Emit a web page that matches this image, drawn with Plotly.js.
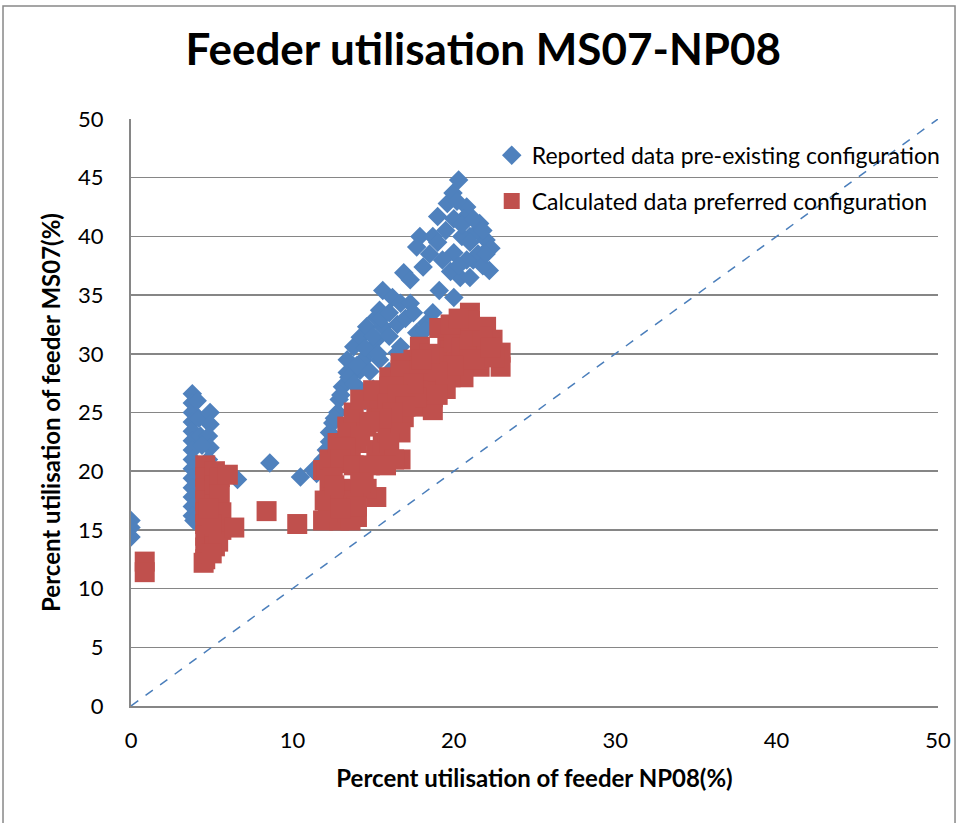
<!DOCTYPE html>
<html><head><meta charset="utf-8">
<script src="https://cdn.plot.ly/plotly-3.0.1.min.js"></script>
<style>body{margin:0;padding:0;background:#fff}#chart{width:957px;height:823px}</style>
</head><body><div id="chart"></div>
<script>
// Reported data pre-existing configuration (blue diamonds)
const reportedX = [0,0,0,
 3.8,3.8,3.8,3.8,3.8,3.8,3.8,3.8,3.8,3.8,3.8,3.8,3.8,3.8,3.9,4.1,4.2,4.3,4.9,4.9,4.8,4.9,4.8,4.4,5.0,6.6,
 8.6,10.5,11.3,11.5,12.1,12.3,12.5,12.8,12.9,13.1,14.0,13.4,14.2,13.4,14.4,15.4,16.5,13.8,14.8,14.2,15.2,14.6,15.6,15.2,15.4,
 15.6,16.2,16.7,17.3,16.9,17.3,17.9,17.7,18.7,18.1,19.0,19.6,19.95,20.3,20.8,21.6,22.0,22.2,20.0,20.4,21.2,19.1,20.0,18.7,18.3,17.7,16.7,
 15.6,16.7,14.5,15.0,16.0,21.5,21.8,22.3,21.0,20.6,
 13.0,13.5,14.0,14.5,15.0,15.5,16.0,13.8,14.8,15.3,16.0,16.5,17.0,12.6,12.3,11.9,18.5,19.0,19.5,20.0,20.5,21.0,21.5,21.8,20.8,20.2,20.5,21.2,21.8,22.0,19.3,19.8,20.3,21.0,17.5,18.2];
const reportedY = [15.8,15.2,14.4,
 26.6,25.8,25.0,24.2,23.4,22.6,21.8,21.0,20.2,19.4,18.6,17.8,17.0,16.2,15.8,26.0,24.5,23.0,25.0,24.0,23.0,22.0,21.0,22.2,19.8,19.3,
 20.7,19.5,20.1,19.8,21.8,23.3,24.1,25.0,26.1,27.2,27.2,28.4,28.6,29.5,29.5,29.5,30.1,30.6,30.3,31.4,31.2,32.3,32.3,33.1,33.7,
 35.4,34.8,34.3,34.3,36.9,36.3,40.0,39.1,40.0,37.4,41.7,42.8,43.7,44.8,42.5,41.1,39.7,37.1,38.6,36.5,38.0,35.4,34.8,33.5,32.6,31.8,30.6,
 22.7,25.5,26.0,27.0,28.5,40.5,38.5,39.0,40.0,41.5,
 26.5,28.0,29.0,30.5,31.5,33.0,33.5,27.5,28.5,30.0,31.5,32.5,33.0,24.5,22.5,21.0,38.5,39.5,40.5,41.5,40.0,39.5,38.5,37.5,38.0,43.0,41.0,41.5,40.5,38.5,38.0,37.0,37.5,36.5,33.5,32.0];

// Calculated data preferred configuration (red squares)
const calculatedX = [0.85,0.85,
 4.6,4.6,4.6,4.6,4.6,4.6,4.6,4.6,4.6,4.5,5.2,5.2,5.2,5.2,5.2,5.2,5.5,5.5,5.6,5.6,5.4,6.0,6.4,5.0,4.8,5.0,
 8.4,10.3,
 11.9,12.9,14.0,12.5,12.3,13.4,15.2,14.4,11.9,12.1,12.8,12.3,13.6,14.4,16.7,15.2,12.8,14.0,13.6,15.6,13.4,14.6,15.9,13.8,15.2,14.2,15.4,
 15.0,16.0,16.7,17.5,17.9,19.6,19.1,21.0,20.6,22.0,22.4,22.9,22.9,21.6,20.6,19.8,18.9,16.7,17.9,19.8,18.7,16.0,17.1,18.7,17.7,18.7,
 15.9,16.9,15.9,16.7,16.0,18.3,17.7,
 20.0,20.5,21.0,21.5,22.0,21.5,22.5,21.0,20.0,19.0,18.5,18.0,19.5,19.0,17.5,16.5,17.0,16.2,15.5,14.8,14.2,13.3,13.0,12.5,13.8,14.8,14.6,13.2,12.2,13.6,12.0,21.8,22.3,21.0,19.8,20.3,16.3,15.8,
 13.0,13.8,14.2,12.6,14.0,13.0];
const calculatedY = [12.3,11.4,
 20.5,19.5,18.5,17.5,16.5,15.5,14.5,13.5,12.5,12.2,20.0,18.8,17.2,16.0,14.5,13.6,19.5,18.0,16.5,15.0,14.0,19.7,15.2,15.5,16.8,13.0,
 16.6,15.5,
 15.8,15.8,16.1,17.0,18.4,18.4,17.8,19.5,20.1,20.1,20.7,21.0,21.0,19.8,21.0,21.8,22.4,22.4,22.1,22.4,23.8,23.8,23.3,25.0,25.0,26.1,26.1,
 26.9,28.0,29.2,29.5,30.6,31.2,32.2,33.5,32.3,32.3,31.2,30.1,28.9,28.9,28.0,30.3,29.7,28.6,28.6,28.0,27.5,27.2,27.2,26.3,25.5,25.2,
 25.8,24.6,23.8,23.3,22.4,26.9,26.3,
 31.0,30.5,31.0,31.5,30.5,29.5,29.7,29.5,29.0,28.5,30.0,29.5,27.0,26.5,27.5,26.5,25.5,25.0,24.5,24.2,23.0,22.0,21.0,19.5,20.5,20.5,18.5,17.0,16.5,15.8,17.5,31.5,30.5,32.8,32.5,33.0,21.0,20.5,
 18.5,17.5,19.0,18.8,17.0,16.8];

// Equality reference line
const diagX = [0, 50];
const diagY = [0, 50];

const xTicks = [0, 10, 20, 30, 40, 50];
const yTicks = [0, 5, 10, 15, 20, 25, 30, 35, 40, 45, 50];

const FONT = 'Lato, "Open Sans", sans-serif';
const BLUE = '#4F81BD', RED = '#C0504D';

const traces = [
 {type:'scatter', mode:'markers', x:reportedX, y:reportedY, name:'Reported data pre-existing configuration',
  legendgroup:'a', marker:{symbol:'diamond', size:15, color:BLUE}},
 {type:'scatter', mode:'markers', x:calculatedX, y:calculatedY, name:'Calculated data preferred configuration',
  legendgroup:'b', marker:{symbol:'square', size:20, color:RED}},
 {type:'scatter', mode:'lines', x:diagX, y:diagY, showlegend:false, hoverinfo:'skip',
  line:{color:'#4a7ebb', width:1.5, dash:'dash'}}
];

const layout = {
 width:957, height:823,
 margin:{l:131, r:19, t:119, b:117, pad:0, autoexpand:false},
 paper_bgcolor:'#fff', plot_bgcolor:'#fff',
 font:{family:FONT, color:'#000', size:22},
 title:{text:'<b>Feeder utilisation MS07-NP08</b>', font:{family:FONT, size:44, color:'#000'},
   x:0.505, xanchor:'center', y:0.94, yanchor:'middle'},
 xaxis:{range:[0,50], tickvals:xTicks, ticktext:xTicks.map(String), showgrid:false, zeroline:false,
   showline:true, linecolor:'#868686', linewidth:2, ticks:'', ticklabelstandoff:14, automargin:false,
   tickfont:{size:22},
   title:{text:'<b>Percent utilisation of feeder NP08(%)</b>', font:{size:24}, standoff:18}},
 yaxis:{range:[0,50], tickvals:yTicks, ticktext:yTicks.map(String), showgrid:true, gridcolor:'#868686', gridwidth:1.5,
   zeroline:false, showline:true, linecolor:'#868686', linewidth:2, ticks:'', ticklabelstandoff:21, automargin:false,
   tickfont:{size:22},
   title:{text:'<b>Percent utilisation of feeder MS07(%)</b>', font:{size:24}, standoff:11}},
 legend:{x:0.447, y:0.975, xanchor:'left', yanchor:'top', bgcolor:'rgba(0,0,0,0)',
   font:{size:23}, traceorder:'grouped', tracegroupgap:13},
 showlegend:true,
 shapes:[{type:'rect', xref:'paper', yref:'paper', x0:-0.1586, x1:1.0211, y0:-0.3, y1:1.1925,
   line:{color:'#888', width:1.5}, fillcolor:'rgba(0,0,0,0)', layer:'below'}]
};

Plotly.newPlot('chart', traces, layout, {displayModeBar:false, staticPlot:true});
</script></body></html>
